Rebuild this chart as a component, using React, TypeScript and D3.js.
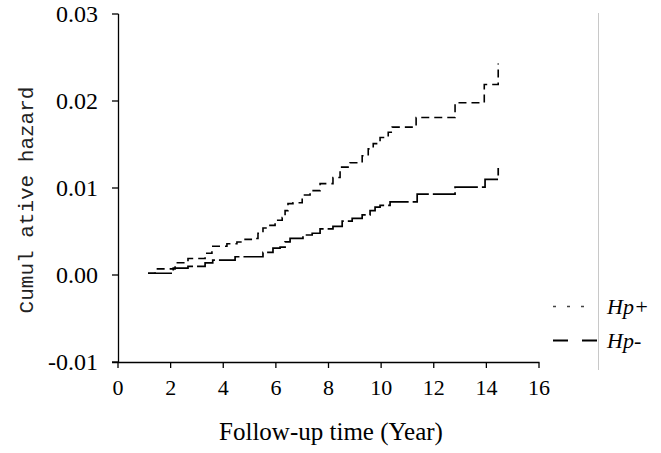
import React from "react";
import * as d3 from "d3";

const xTicks = [0, 2, 4, 6, 8, 10, 12, 14, 16];
const yTicks = [-0.01, 0.0, 0.01, 0.02, 0.03];
const yTickLabels = ["-0.01", "0.00", "0.01", "0.02", "0.03"];

const hpPlusTimes = [1.14, 1.41, 2.17, 2.66, 3.31, 3.57, 4.14, 4.52, 4.83, 5.13, 5.32, 5.51, 5.67, 5.97, 6.24, 6.35, 6.46, 6.65, 7.0, 7.3, 7.68, 8.17, 8.44, 8.82, 9.28, 9.51, 9.7, 9.96, 10.27, 10.42, 11.33, 12.81, 13.92, 14.45];
const hpPlusValues = [0.0002, 0.0007, 0.0014, 0.0019, 0.0025, 0.0033, 0.0036, 0.0038, 0.0041, 0.0042, 0.0048, 0.0054, 0.0057, 0.0063, 0.0066, 0.0074, 0.0082, 0.0083, 0.0092, 0.0097, 0.0105, 0.0112, 0.0124, 0.0129, 0.0137, 0.0145, 0.0151, 0.0158, 0.0164, 0.017, 0.0181, 0.0198, 0.0219, 0.0243];

const hpMinusTimes = [1.14, 2.1, 2.66, 3.31, 3.6, 4.45, 5.51, 5.89, 6.16, 6.35, 6.54, 7.03, 7.38, 7.68, 8.17, 8.52, 8.9, 9.28, 9.58, 9.77, 9.96, 10.34, 11.37, 12.81, 13.95, 14.45];
const hpMinusValues = [0.0002, 0.0008, 0.001, 0.0014, 0.0017, 0.0021, 0.0026, 0.0031, 0.0032, 0.0038, 0.0042, 0.0046, 0.0048, 0.0053, 0.0056, 0.0062, 0.0065, 0.0069, 0.0074, 0.0078, 0.008, 0.0084, 0.0093, 0.0101, 0.011, 0.0123];

const seriesNames = ["Hp+", "Hp-"];

export default function App() {
  const x = d3.scaleLinear().domain([0, 16]).range([118, 539]);
  const y = d3.scaleLinear().domain([-0.01, 0.03]).range([362, 14]);
  const line = d3
    .line<[number, number]>()
    .x((d) => x(d[0]))
    .y((d) => y(d[1]))
    .curve(d3.curveStepAfter);
  const plus: [number, number][] = hpPlusTimes.map((t, i) => [t, hpPlusValues[i]]);
  const minus: [number, number][] = hpMinusTimes.map((t, i) => [t, hpMinusValues[i]]);
  const serif = "'Liberation Serif', 'Times New Roman', serif";
  return (
    <svg
      width={661}
      height={453}
      style={{ position: "absolute", left: 0, top: 0, background: "#fff" }}
    >
      <rect x={0} y={0} width={661} height={453} fill="#fff" />
      {/* right gray line */}
      <line x1={598.5} x2={598.5} y1={13} y2={370} stroke="#c8c8c8" strokeWidth={1} />
      {/* y axis */}
      <line x1={118.5} x2={118.5} y1={14} y2={362} stroke="#000" strokeWidth={1.3} />
      {yTicks.map((t, i) => (
        <g key={"y" + i}>
          <line x1={112} x2={118.5} y1={y(t)} y2={y(t)} stroke="#000" strokeWidth={1.3} />
          <text
            x={98}
            y={y(t) + 8}
            textAnchor="end"
            style={{ fontFamily: serif, fontSize: 24 }}
            fill="#000"
          >
            {yTickLabels[i]}
          </text>
        </g>
      ))}
      {/* x axis */}
      <line x1={112} x2={539.5} y1={362.5} y2={362.5} stroke="#000" strokeWidth={1.3} />
      {xTicks.map((t) => (
        <g key={"x" + t}>
          <line x1={x(t)} x2={x(t)} y1={362.5} y2={368} stroke="#000" strokeWidth={1.3} />
          <text
            x={x(t)}
            y={395}
            textAnchor="middle"
            style={{ fontFamily: serif, fontSize: 22 }}
            fill="#000"
          >
            {t}
          </text>
        </g>
      ))}
      <text x={331} y={440} textAnchor="middle" style={{ fontFamily: serif, fontSize: 25 }} fill="#000">
        Follow-up time (Year)
      </text>
      <text
        transform="translate(33,200) rotate(-90)"
        textAnchor="middle"
        style={{ fontFamily: "'Liberation Mono', 'DejaVu Sans Mono', monospace", fontSize: 21 }}
        fill="#222"
      >
        Cumul ative hazard
      </text>
      {/* curves */}
      <path d={line(minus) || ""} fill="none" stroke="#000" strokeWidth={1.7} strokeDasharray="24,4" />
      <path d={line(plus) || ""} fill="none" stroke="#000" strokeWidth={1.6} strokeDasharray="8,5" />
      {/* legend */}
      <line x1={553} x2={590} y1={306.5} y2={306.5} stroke="#444" strokeWidth={1.6} strokeDasharray="3,11" />
      <line x1={553} x2={598} y1={340.5} y2={340.5} stroke="#000" strokeWidth={1.8} strokeDasharray="15,14" />
      <text x={607} y={314} style={{ fontFamily: serif, fontStyle: "italic", fontSize: 22 }} fill="#000">
        {seriesNames[0]}
      </text>
      <text x={607} y={348} style={{ fontFamily: serif, fontStyle: "italic", fontSize: 22 }} fill="#000">
        {seriesNames[1]}
      </text>
    </svg>
  );
}
